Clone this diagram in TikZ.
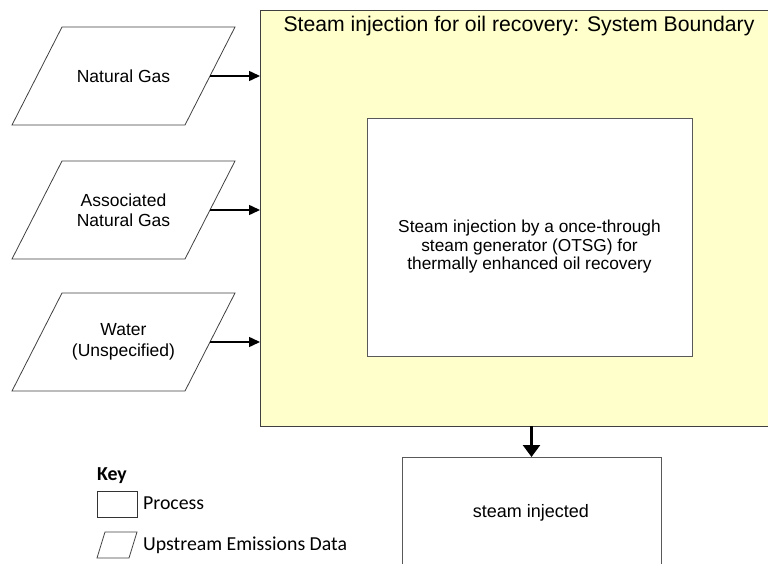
\documentclass[tikz,border=0pt]{standalone}
\usepackage{fontspec}
\setmainfont{Liberation Sans}
\newfontfamily\keyfont{Carlito}
\usetikzlibrary{arrows.meta}
\definecolor{sysyellow}{HTML}{FFFFCC}
\begin{document}
\begin{tikzpicture}[x=1pt,y=-1pt,
  body/.style={font=\fontsize{17.5}{20.5}\selectfont, align=center},
  pgtext/.style={body, minimum width=173pt, minimum height=98pt, inner sep=0pt, outer sep=0pt},
  pgline/.style={draw=black!75, line width=0.8pt},
  sysbox/.style={draw=black!75, fill=sysyellow, line width=1pt, inner sep=0pt, outer sep=0pt},
  procbox/.style={draw=black!65, fill=white, line width=0.9pt, inner sep=0pt, outer sep=0pt},
  sidearrow/.style={line width=1.5pt, -{Triangle[length=11pt,width=10pt]}},
  downarrow/.style={line width=2.5pt, -{Triangle[length=12pt,width=17pt]}},
  keytext/.style={font=\keyfont\fontsize{19.8}{22}\selectfont, inner sep=0pt, anchor=base west}
]
\useasboundingbox (0,0) rectangle (768,564);
\clip (0,0) rectangle (768,564);

% system boundary
\node[sysbox, minimum width=520pt, minimum height=415pt] (sb) at (520,218.5) {};
\node[font=\fontsize{21.2}{24}\selectfont, anchor=base, inner sep=0pt] (title) at (519,31.5) {Steam injection for oil recovery: System Boundary};

% inner process
\node[procbox, minimum width=325pt, minimum height=238pt] (proc) at (529.5,237) {};
\node[body, font=\fontsize{17.3}{18.5}\selectfont] (proctxt) at (529.5,247) {Steam injection by a once-through\\steam generator (OTSG) for\\thermally enhanced oil recovery};

% inputs
\node[pgtext] (ng) at (123.5,76) {Natural Gas};
\node[pgtext] (ang) at (123.5,210) {Associated\\Natural Gas};
\node[pgtext] (wat) at (123.5,342) {Water\\(Unspecified)};
\foreach \n in {ng,ang,wat}{
  \draw[pgline] ([xshift=25pt]\n.north west) -- ([xshift=25pt]\n.north east)
     -- ([xshift=-25pt]\n.south east) -- ([xshift=-25pt]\n.south west) -- cycle;
  \draw[sidearrow] (\n.east) -- (\n.east -| sb.west);
}

% output
\node[procbox, minimum width=259pt, minimum height=160pt] (out) at (531.5,537) {};
\node[body, font=\fontsize{18}{20.5}\selectfont] (outtxt) at (531,513) {steam injected};
\draw[downarrow] (out.north |- sb.south) -- (out.north);

% key
\node[keytext, font=\keyfont\bfseries\fontsize{19.8}{22}\selectfont] (keyt) at (97,480) {Key};
\node[procbox, draw=black!80, minimum width=40pt, minimum height=26pt] (kproc) at (117,504) {};
\node[keytext] (kproct) at (143,509) {Process};
\node[inner sep=0pt, outer sep=0pt, minimum width=32pt, minimum height=26pt] (kpg) at (117,545) {};
\draw[pgline] ([xshift=4pt]kpg.north west) -- ([xshift=4pt]kpg.north east)
   -- ([xshift=-4pt]kpg.south east) -- ([xshift=-4pt]kpg.south west) -- cycle;
\node[keytext] (kpgt) at (143,550) {Upstream Emissions Data};
\end{tikzpicture}
\end{document}
